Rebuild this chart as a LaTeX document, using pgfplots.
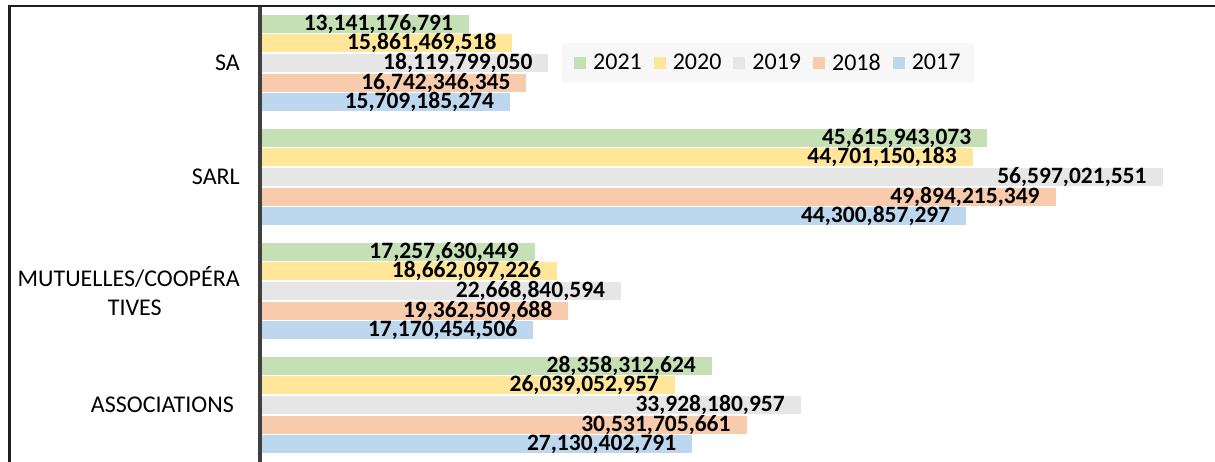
\documentclass[border=0pt]{standalone}
\usepackage{pgfplots}
\pgfplotsset{compat=1.18}
\usepackage{fontspec}
\setmainfont{Carlito}
\definecolor{cgreen}{HTML}{C5E0B4}
\definecolor{cyellow}{HTML}{FFE699}
\definecolor{cgray}{HTML}{E6E6E6}
\definecolor{corange}{HTML}{F8CBAD}
\definecolor{cblue}{HTML}{BDD7EE}
\definecolor{axisgray}{HTML}{404040}
\definecolor{legbg}{HTML}{F7F7F7}
\begin{document}
\begin{tikzpicture}
\useasboundingbox[fill=white] (0,0) rectangle (1215pt,462pt);
\begin{axis}[
  at={(260pt,0pt)}, anchor=south west,
  scale only axis, width=955pt, height=456pt,
  xmin=0, xmax=59.84, ymin=-0.5, ymax=3.5,
  xbar, bar width=19.6pt,
  axis on top,
  axis y line=left, axis x line=none,
  y axis line style={-, line width=3.6pt, color=axisgray},
  ytick={0,1,2,3},
  yticklabels={ASSOCIATIONS\hspace*{6pt},{MUTUELLES/COOPÉRA\\\hspace*{12pt}TIVES},SARL,SA},
  major tick length=0pt,
  yticklabel style={font=\fontsize{24}{29}\selectfont, align=center, inner sep=0pt, xshift=-20pt},
  xtick=\empty,
  point meta=explicit symbolic,
  nodes near coords,
  every node near coord/.append style={anchor=east, inner sep=0pt, xshift=-16pt, font=\fontsize{23.5}{27}\bfseries, text=black},
  legend columns=5,
  legend style={at={(axis description cs:0.3162,0.9189)}, anchor=north west, fill=legbg, draw=none,
    inner xsep=12pt, inner ysep=8.5pt, font=\fontsize{24}{28}\selectfont,
    /tikz/every odd column/.append style={column sep=5pt},
    /tikz/every even column/.append style={column sep=10pt}},
  legend image code/.code={\fill[#1,draw=none] (0pt,-6pt) rectangle (12pt,6pt);},
]
\addplot[fill=cgreen, draw=white, line width=1.5pt, bar shift=39.2pt] coordinates {
  (28.358312624,0) [28,358,312,624]
  (17.257630449,1) [17,257,630,449]
  (45.615943073,2) [45,615,943,073]
  (13.141176791,3) [13,141,176,791]
};
\addplot[fill=cyellow, draw=white, line width=1.5pt, bar shift=19.6pt] coordinates {
  (26.039052957,0) [26,039,052,957]
  (18.662097226,1) [18,662,097,226]
  (44.701150183,2) [44,701,150,183]
  (15.861469518,3) [15,861,469,518]
};
\addplot[fill=cgray, draw=white, line width=1.5pt, bar shift=0pt] coordinates {
  (33.928180957,0) [33,928,180,957]
  (22.668840594,1) [22,668,840,594]
  (56.597021551,2) [56,597,021,551]
  (18.119799050,3) [18,119,799,050]
};
\addplot[fill=corange, draw=white, line width=1.5pt, bar shift=-19.6pt] coordinates {
  (30.531705661,0) [30,531,705,661]
  (19.362509688,1) [19,362,509,688]
  (49.894215349,2) [49,894,215,349]
  (16.742346345,3) [16,742,346,345]
};
\addplot[fill=cblue, draw=white, line width=1.5pt, bar shift=-39.2pt] coordinates {
  (27.130402791,0) [27,130,402,791]
  (17.170454506,1) [17,170,454,506]
  (44.300857297,2) [44,300,857,297]
  (15.709185274,3) [15,709,185,274]
};
\legend{2021,2020,2019,2018,2017}
\end{axis}
\draw[line width=2.6pt, color=black!88] (9.5pt,0pt) -- (9.5pt,456pt) -- (1216pt,456pt);
\end{tikzpicture}
\end{document}
